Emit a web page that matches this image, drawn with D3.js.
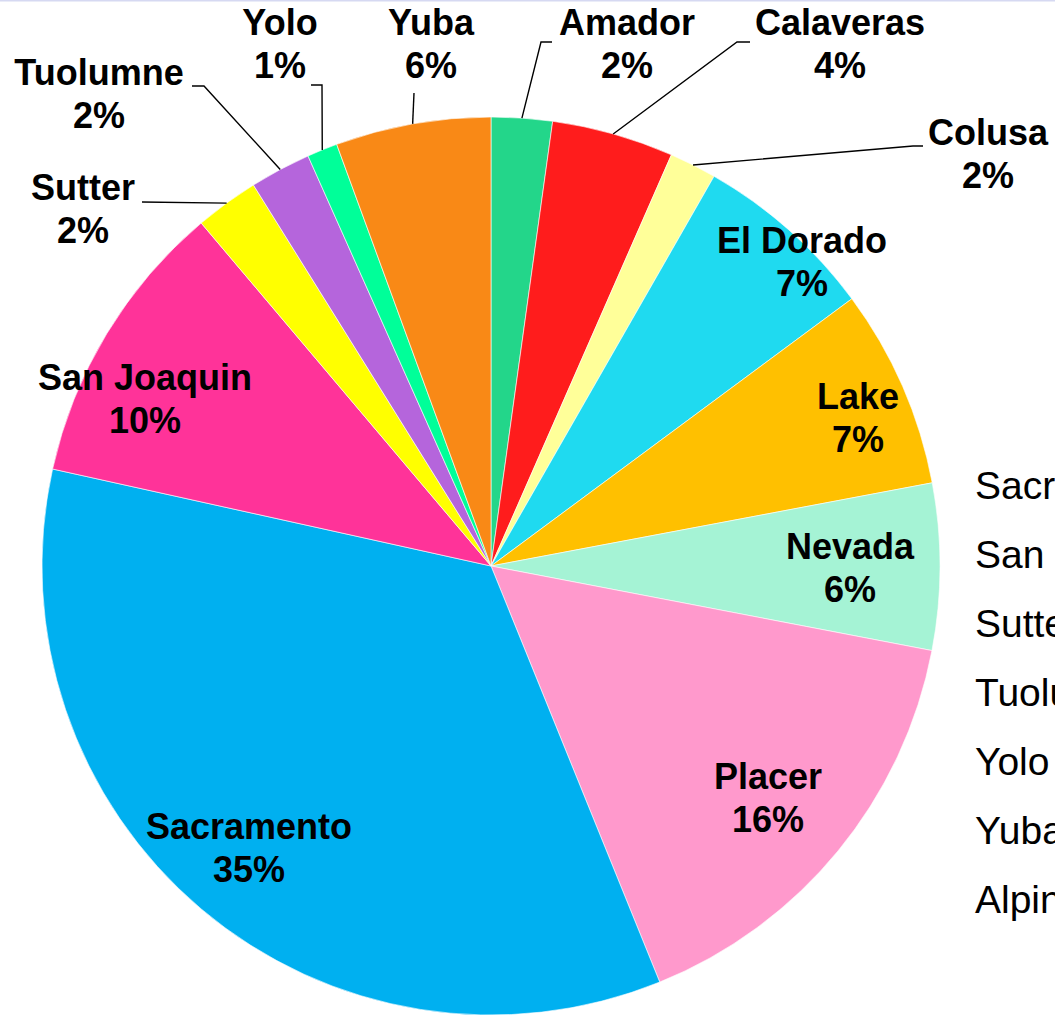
<!DOCTYPE html>
<html>
<head>
<meta charset="utf-8">
<script src="https://cdn.jsdelivr.net/npm/d3@7"></script>
<style>
  html, body { margin: 0; padding: 0; background: #fff; overflow: hidden; }
  svg { display: block; }
</style>
</head>
<body>
<svg id="chart" width="1055" height="1015"></svg>
<script>
// ---- data ----
const counties = ["Amador","Calaveras","Colusa","El Dorado","Lake","Nevada","Placer",
                  "Sacramento","San Joaquin","Sutter","Tuolumne","Yolo","Yuba","Alpine"];
const shares   = [2.2, 4.4, 1.7, 6.6, 7.2, 6.0, 15.9, 34.7, 10.4, 2.3, 2.2, 1.1, 5.6, 0];
const colors   = ["#23D68A","#FF1C1C","#FFFF99","#1FDAF0","#FFC000","#A5F3D5","#FF99CC",
                  "#00B0F0","#FF3399","#FFFF00","#B565DC","#00FF99","#F98916","#7F7F7F"];
const legendNames = ["Sacramento","San Joaquin","Sutter","Tuolumne","Yolo","Yuba","Alpine"];

// ---- layout (label placement, not data) ----
const cx = 491, cy = 566, R = 449;
const labelLayout = {
  "Amador":     {x: 627, y: 35,  elbow: [541, 42],  end: [552, 42]},
  "Calaveras":  {x: 840, y: 35,  elbow: [737, 42],  end: [750, 42]},
  "Colusa":     {x: 988, y: 145, elbow: [913, 146], end: [923, 146]},
  "El Dorado":  {x: 802, y: 253},
  "Lake":       {x: 858, y: 409},
  "Nevada":     {x: 850, y: 559},
  "Placer":     {x: 768, y: 789},
  "Sacramento": {x: 249, y: 839},
  "San Joaquin":{x: 145, y: 390},
  "Sutter":     {x: 83,  y: 200, elbow: [142, 202], end: [142, 202]},
  "Tuolumne":   {x: 99,  y: 85,  elbow: [204, 86],  end: [192, 86]},
  "Yolo":       {x: 280, y: 35,  elbow: [322, 85],  end: [311, 85]},
  "Yuba":       {x: 431, y: 35,  elbow: [414, 93],  end: [414, 93]}
};
const lineGap = 42.5;

const data = counties.map((c, i) => ({name: c, value: shares[i], color: colors[i]}));
const total = d3.sum(shares);

const svg = d3.select("#chart");

// top border line
svg.append("rect").attr("x", 0).attr("y", 0).attr("width", 1055).attr("height", 1.5)
   .attr("fill", "#D6D9F2");

const pie = d3.pie().value(d => d.value).sort(null).startAngle(0).endAngle(2 * Math.PI);
const arcs = pie(data);
const arc = d3.arc().innerRadius(0).outerRadius(R);

const g = svg.append("g").attr("transform", `translate(${cx},${cy})`);
g.selectAll("path.slice")
  .data(arcs.filter(d => d.value > 0))
  .join("path")
  .attr("class", "slice")
  .attr("d", arc)
  .attr("fill", d => d.data.color)
  .attr("stroke", "#ffffff")
  .attr("stroke-width", 0.6);

// leader lines
const leaders = svg.append("g");
arcs.forEach(d => {
  const L = labelLayout[d.data.name];
  if (!L || !L.elbow) return;
  const mid = (d.startAngle + d.endAngle) / 2;
  const sx = cx + R * Math.sin(mid), sy = cy - R * Math.cos(mid);
  leaders.append("polyline")
    .attr("points", [[sx, sy], L.elbow, L.end].map(p => p.join(",")).join(" "))
    .attr("fill", "none")
    .attr("stroke", "#000")
    .attr("stroke-width", 1.4);
});

// labels
const labels = svg.append("g")
  .attr("font-family", "'Liberation Sans', Arial, Helvetica, sans-serif")
  .attr("font-weight", "bold")
  .attr("font-size", 36)
  .attr("fill", "#000")
  .attr("text-anchor", "middle");
arcs.forEach(d => {
  const L = labelLayout[d.data.name];
  if (!L) return;
  const pct = Math.round(d.data.value / total * 100) + "%";
  const t = labels.append("text").attr("x", L.x).attr("y", L.y);
  t.append("tspan").attr("x", L.x).attr("y", L.y).text(d.data.name);
  t.append("tspan").attr("x", L.x).attr("y", L.y + lineGap).text(pct);
});

// legend (partially outside the visible area, as in the reference)
const legendY = d3.scaleBand().domain(legendNames).range([430, 913]);
svg.append("g")
  .attr("font-family", "'Liberation Sans', Arial, Helvetica, sans-serif")
  .attr("font-size", 39)
  .attr("fill", "#000")
  .selectAll("text")
  .data(legendNames)
  .join("text")
  .attr("x", 975)
  .attr("y", d => legendY(d) + legendY.bandwidth())
  .text(d => d);
</script>
</body>
</html>
